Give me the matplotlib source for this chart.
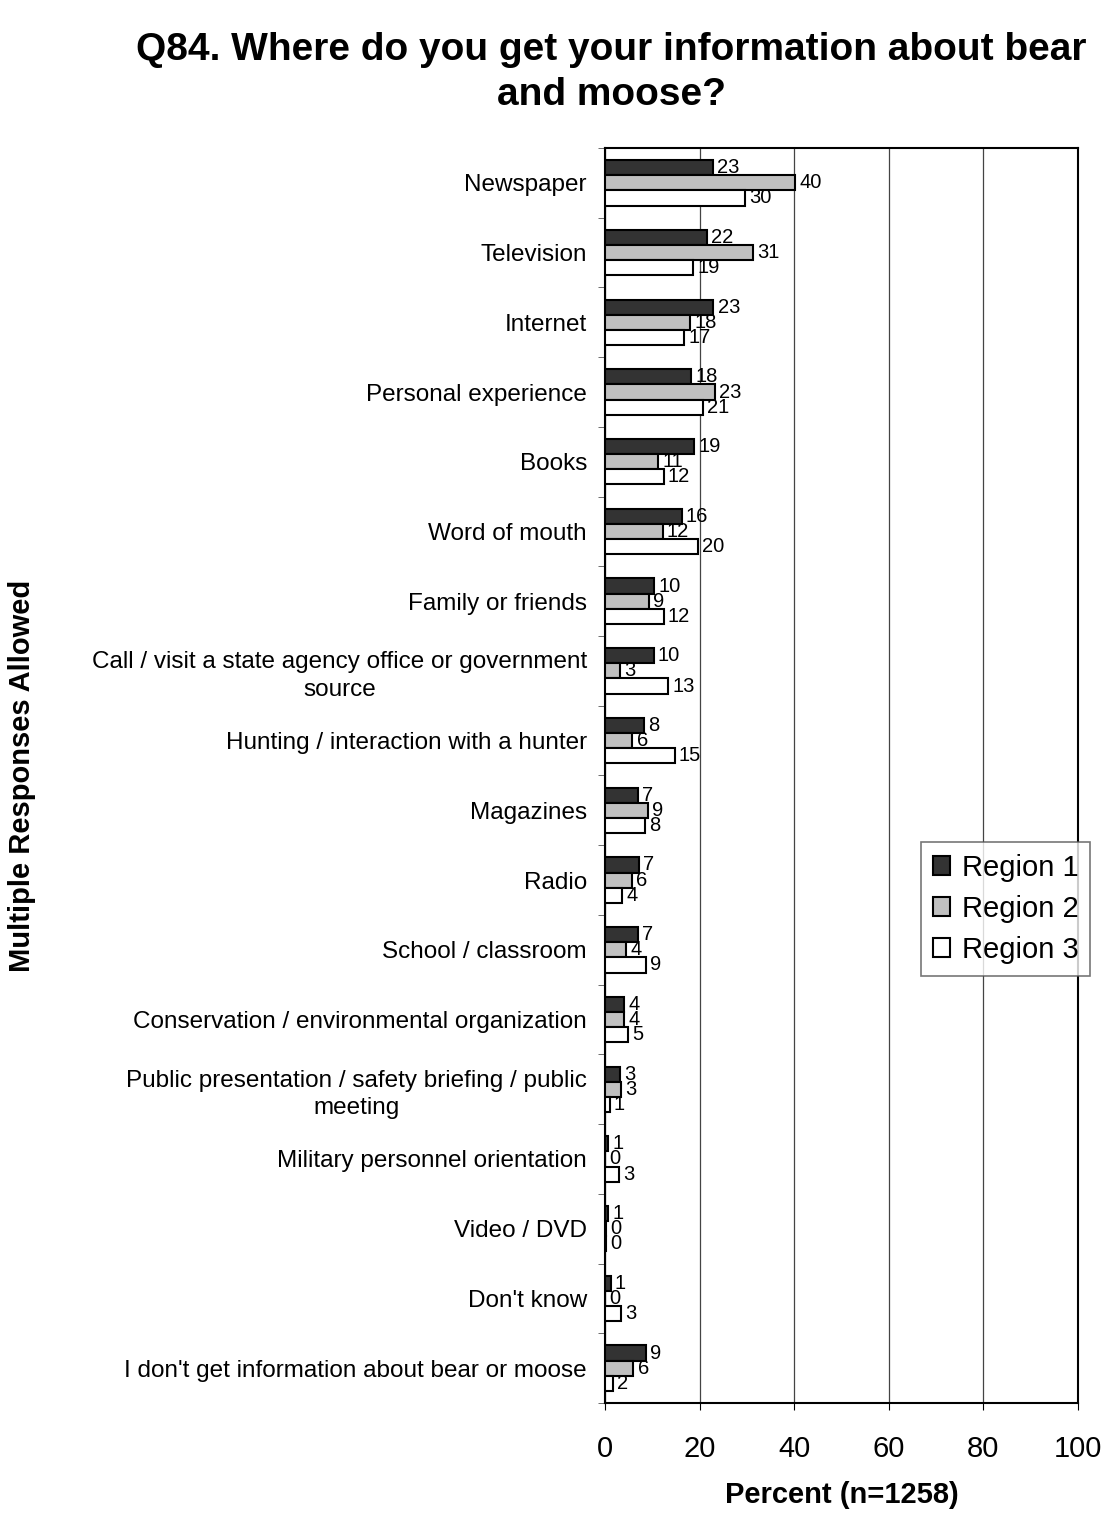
import numpy as np
import matplotlib.pyplot as plt

plt.rcParams['font.family'] = ['Liberation Sans', 'DejaVu Sans']

# Survey categories (top to bottom) and percent per region
categories = ['Newspaper', 'Television', 'Internet', 'Personal experience', 'Books',
              'Word of mouth', 'Family or friends',
              'Call / visit a state agency office or government\nsource',
              'Hunting / interaction with a hunter', 'Magazines', 'Radio',
              'School / classroom', 'Conservation / environmental organization',
              'Public presentation / safety briefing / public\nmeeting',
              'Military personnel orientation', 'Video / DVD', "Don't know",
              "I don't get information about bear or moose"]
region1 = [22.8, 21.6, 22.9, 18.2, 18.8, 16.2, 10.4, 10.3, 8.2, 7.0, 7.2, 7.0, 4.1, 3.2, 0.7, 0.6, 1.2, 8.7]
region2 = [40.2, 31.3, 18.0, 23.3, 11.3, 12.2, 9.2, 3.2, 5.8, 9.1, 5.7, 4.5, 4.1, 3.3, 0.0, 0.3, 0.0, 6.0]
region3 = [29.6, 18.7, 16.7, 20.7, 12.4, 19.6, 12.4, 13.4, 14.7, 8.4, 3.6, 8.7, 4.8, 1.0, 2.9, 0.2, 3.4, 1.6]
series_names = ['Region 1', 'Region 2', 'Region 3']
series_colors = ['#333333', '#c0c0c0', '#ffffff']

fig = plt.figure(figsize=(11.07, 15.13), dpi=100)
ax = fig.add_axes([605/1107, 1 - 1403/1513, (1078-605)/1107, (1403-148)/1513])

y = np.arange(len(categories))
h = 0.217
for i, (vals, name, col) in enumerate(zip([region1, region2, region3], series_names, series_colors)):
    pos = y + (i - 1) * h
    ax.barh(pos, vals, height=h, color=col, edgecolor='black', linewidth=1.5, label=name, zorder=3)
    for p, v in zip(pos, vals):
        ax.text(v + 0.9, p, '%d' % round(v), va='center', ha='left', fontsize=14.5, zorder=4)

ax.set_xlim(0, 100)
ax.set_ylim(len(categories) - 0.5, -0.5)
ax.set_xticks([0, 20, 40, 60, 80, 100])
ax.tick_params(axis='x', labelsize=21, length=5, direction='out', pad=18)
ax.set_yticks(y)
ax.set_yticklabels(categories, fontsize=17.5, linespacing=1.3, multialignment='center')
ax.tick_params(axis='y', length=0, pad=13)
ax.set_yticks(np.arange(-0.5, len(categories), 1), minor=True)
ax.tick_params(axis='y', which='minor', length=5, direction='out', color='#555555')
ax.grid(axis='x', color='#444444', linewidth=0.9, zorder=0)
for s in ax.spines.values():
    s.set_linewidth(1.5)

ax.set_xlabel('Percent (n=1258)', fontsize=21, fontweight='bold', labelpad=13)
fig.text(0.02, 0.487, 'Multiple Responses Allowed', rotation=90, fontsize=21,
         fontweight='bold', ha='center', va='center')

fig.text(0.552, 0.952, 'Q84. Where do you get your information about bear\nand moose?',
         ha='center', va='center', fontsize=28, fontweight='bold', linespacing=1.3)

leg = ax.legend(loc='upper right', bbox_to_anchor=(0.985, 0.4435), bbox_transform=fig.transFigure,
                fontsize=21, frameon=True, fancybox=False, edgecolor='#555555',
                handlelength=0.6, handleheight=0.6, handletextpad=0.4,
                labelspacing=0.45, borderpad=0.4, borderaxespad=0)
leg.get_frame().set_linewidth(1.2)

fig.savefig('out.png', dpi=100)
